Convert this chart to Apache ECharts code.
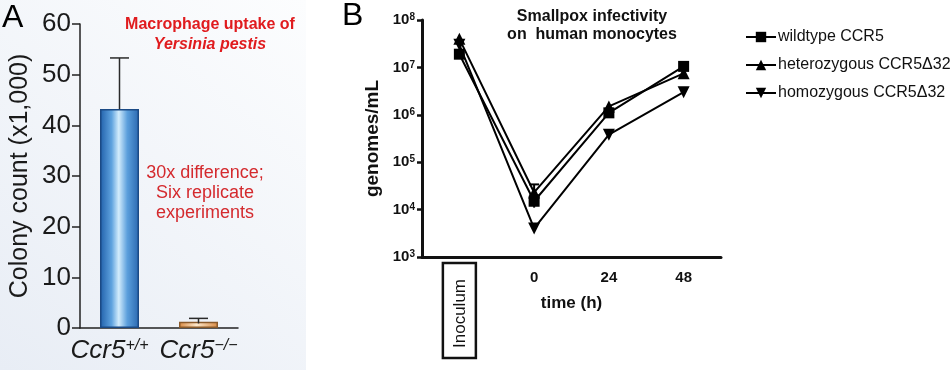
<!DOCTYPE html>
<html><head><meta charset="utf-8">
<script src="https://cdn.jsdelivr.net/npm/echarts@6/dist/echarts.min.js"></script>
<style>html,body{margin:0;padding:0;background:#fff}#c{width:951px;height:370px}</style>
</head><body><div id="c"></div>
<script>
// ---- Panel A data ----
const genotypesA = ['Ccr5+/+', 'Ccr5\u2212/\u2212'];
const colonyCount = [43.2, 1.25];
const colonyErrLow = [43.2, 0.9];
const colonyErrHigh = [53.3, 1.9];

// ---- Panel B data ----
const timeLabels = ['Inoculum', '0', '24', '48'];
const wildtype = [1.9e7, 1.5e4, 1.1e6, 1.05e7];
const heterozygous = [4.0e7, 2.3e4, 1.5e6, 7.5e6];
const homozygous = [3.0e7, 4.0e3, 3.8e5, 3.0e6];
const errTimeB = ['0', '0'];
const errLowB = [1.1e4, 1.6e4];
const errHighB = [2.0e4, 3.4e4];
const seriesNamesB = ['wildtype CCR5', 'heterozygous CCR5\u039432', 'homozygous CCR5\u039432'];

const FONT = '"Liberation Sans", Arial, sans-serif';

function errRender(capHalf, color, lw) {
  return function (params, api) {
    const x = api.value(0);
    const lo = api.coord([x, api.value(1)]);
    const hi = api.coord([x, api.value(2)]);
    return {
      type: 'group',
      children: [
        { type: 'line', shape: { x1: lo[0], y1: lo[1], x2: hi[0], y2: hi[1] }, style: { stroke: color, lineWidth: lw } },
        { type: 'line', shape: { x1: hi[0] - capHalf, y1: hi[1], x2: hi[0] + capHalf, y2: hi[1] }, style: { stroke: color, lineWidth: lw } }
      ]
    };
  };
}

const chart = echarts.init(document.getElementById('c'), null, { renderer: 'canvas' });

const blueGrad = new echarts.graphic.LinearGradient(0, 0, 1, 0, [
  { offset: 0, color: '#2060aa' }, { offset: 0.3, color: '#5fa3df' },
  { offset: 0.48, color: '#d2ecfc' }, { offset: 0.7, color: '#5b9fdc' }, { offset: 1, color: '#2a68b0' }
]);
const orangeGrad = new echarts.graphic.LinearGradient(0, 0, 1, 0, [
  { offset: 0, color: '#d98a43' }, { offset: 0.45, color: '#fde8cc' }, { offset: 1, color: '#d98a43' }
]);

const option = {
  animation: false,
  backgroundColor: '#ffffff',
  textStyle: { fontFamily: FONT },
  graphic: [
    {
      type: 'rect', z: -10, silent: true,
      shape: { x: 0, y: 0, width: 306, height: 370 },
      style: {
        fill: new echarts.graphic.LinearGradient(1, 0, 0, 1, [
          { offset: 0, color: '#fcfdfe' }, { offset: 1, color: '#e8edf5' }
        ])
      }
    },
    { type: 'text', x: 2, y: 2, style: { text: 'A', font: '32px ' + FONT, fill: '#000' } },
    { type: 'text', x: 342, y: 0, style: { text: 'B', font: '32px ' + FONT, fill: '#000' } },
    {
      type: 'text', x: 210, y: 35,
      style: {
        text: '{a|Macrophage uptake of}\n{b|Yersinia pestis}', align: 'center', verticalAlign: 'middle',
        rich: {
          a: { fontFamily: FONT, fontSize: 16, fontWeight: 'bold', fill: '#e01b1e', lineHeight: 20, align: 'center' },
          b: { fontFamily: FONT, fontSize: 16, fontWeight: 'bold', fontStyle: 'italic', fill: '#e01b1e', lineHeight: 20, align: 'center' }
        }
      }
    },
    {
      type: 'text', x: 205, y: 193,
      style: {
        text: '30x difference;\nSix replicate\nexperiments', align: 'center', verticalAlign: 'middle',
        font: '18px ' + FONT, fill: '#d42a2e', lineHeight: 20
      }
    },
    {
      type: 'text', x: 592, y: 26,
      style: {
        text: 'Smallpox infectivity\non  human monocytes', align: 'center', verticalAlign: 'middle',
        font: 'bold 16px ' + FONT, fill: '#111', lineHeight: 18
      }
    }
  ],
  legend: {
    orient: 'vertical', left: 740, top: 24, itemWidth: 30, itemHeight: 13, itemGap: 12,
    symbolRotate: 'inherit',
    data: seriesNamesB,
    textStyle: { fontFamily: FONT, fontSize: 16, color: '#111', padding: [0, 0, 0, -3] }
  },
  grid: [
    { left: 80, top: 24, width: 158, height: 304 },
    { left: 422, top: 20, width: 299, height: 237 }
  ],
  xAxis: [
    {
      type: 'category', gridIndex: 0, data: genotypesA, boundaryGap: true,
      axisLine: { lineStyle: { color: '#222', width: 1.5 } },
      axisTick: { length: 8, lineStyle: { color: '#222', width: 1.5 } },
      axisLabel: {
        margin: 10, color: '#1a1a1a', interval: 0, hideOverlap: false,
        formatter: (v, i) => '{i|' + v.slice(0, 4) + '}{' + (i === 0 ? 's0' : 's') + '|' + v.slice(4) + '}',
        rich: {
          i: { fontFamily: FONT, fontSize: 26, fontStyle: 'italic', color: '#1a1a1a' },
          s: { fontFamily: FONT, fontSize: 16, fontStyle: 'italic', color: '#1a1a1a', verticalAlign: 'top' },
          s0: { fontFamily: FONT, fontSize: 16, fontStyle: 'italic', color: '#1a1a1a', verticalAlign: 'top', padding: [0, 20, 0, 0] }
        }
      }
    },
    {
      type: 'category', gridIndex: 1, data: timeLabels, boundaryGap: true,
      name: 'time (h)', nameLocation: 'middle', nameGap: 38,
      nameTextStyle: { fontFamily: FONT, fontSize: 17, fontWeight: 'bold', color: '#111' },
      axisLine: { lineStyle: { color: '#111', width: 3 } },
      axisTick: { alignWithLabel: true, length: 6, lineStyle: { color: '#111', width: 2.5 } },
      axisLabel: {
        margin: 13, fontFamily: FONT, fontSize: 15, fontWeight: 'bold', color: '#111',
        interval: 0,
        formatter: v => (v === 'Inoculum' ? '' : v)
      }
    },
    {
      type: 'category', gridIndex: 1, data: timeLabels, boundaryGap: true, position: 'bottom',
      axisLine: { show: false }, axisTick: { show: false },
      axisLabel: {
        rotate: 90, margin: 6, interval: 0,
        formatter: v => (v === 'Inoculum' ? '{box|Inoculum}' : ''),
        rich: {
          box: {
            fontFamily: FONT, fontSize: 17, color: '#111',
            borderColor: '#111', borderWidth: 2.5, padding: [9, 16, 7, 10]
          }
        }
      }
    }
  ],
  yAxis: [
    {
      type: 'value', gridIndex: 0, min: 0, max: 60, interval: 10,
      name: 'Colony count (x1,000)', nameLocation: 'middle', nameGap: 47,
      nameTextStyle: { fontFamily: FONT, fontSize: 25, color: '#1a1a1a' },
      splitLine: { show: false },
      axisLine: { show: true, lineStyle: { color: '#222', width: 1.5 } },
      axisTick: { show: true, length: 8, lineStyle: { color: '#222', width: 1.5 } },
      axisLabel: { margin: 9, fontFamily: FONT, fontSize: 26, color: '#1a1a1a' }
    },
    {
      type: 'log', gridIndex: 1, min: 1e3, max: 1e8, logBase: 10,
      name: 'genomes/mL', nameLocation: 'middle', nameGap: 40,
      nameTextStyle: { fontFamily: FONT, fontSize: 19, fontWeight: 'bold', color: '#111' },
      splitLine: { show: false },
      axisLine: { show: true, lineStyle: { color: '#111', width: 3 } },
      axisTick: { show: true, length: 5, lineStyle: { color: '#111', width: 2.5 } },
      axisLabel: {
        margin: 7,
        formatter: v => '{b|10}{s|' + Math.round(Math.log10(v)) + '}',
        rich: {
          b: { fontFamily: FONT, fontSize: 15, fontWeight: 'bold', color: '#111' },
          s: { fontFamily: FONT, fontSize: 10, fontWeight: 'bold', color: '#111', verticalAlign: 'top' }
        }
      }
    }
  ],
  series: [
    {
      type: 'bar', xAxisIndex: 0, yAxisIndex: 0, barWidth: 39,
      data: [
        { value: colonyCount[0], itemStyle: { color: blueGrad, borderColor: '#1b4a85', borderWidth: 1.5 } },
        { value: colonyCount[1], itemStyle: { color: orangeGrad, borderColor: '#8a5a2b', borderWidth: 1.5 } }
      ]
    },
    {
      type: 'custom', xAxisIndex: 0, yAxisIndex: 0, z: 5,
      renderItem: errRender(9.5, '#2a2a2a', 1.5),
      data: genotypesA.map((g, i) => [g, colonyErrLow[i], colonyErrHigh[i]])
    },
    {
      name: seriesNamesB[2], type: 'line', xAxisIndex: 1, yAxisIndex: 1,
      data: homozygous, symbol: 'triangle', symbolRotate: 180, symbolSize: 12,
      lineStyle: { color: '#000', width: 2 }, itemStyle: { color: '#000' }
    },
    {
      name: seriesNamesB[1], type: 'line', xAxisIndex: 1, yAxisIndex: 1,
      data: heterozygous, symbol: 'triangle', symbolSize: 12,
      lineStyle: { color: '#000', width: 2 }, itemStyle: { color: '#000' }
    },
    {
      name: seriesNamesB[0], type: 'line', xAxisIndex: 1, yAxisIndex: 1,
      data: wildtype, symbol: 'rect', symbolSize: 11,
      lineStyle: { color: '#000', width: 2 }, itemStyle: { color: '#000' }
    },
    {
      type: 'custom', xAxisIndex: 1, yAxisIndex: 1, z: 5,
      renderItem: errRender(5, '#000', 2),
      data: errTimeB.map((t, i) => [t, errLowB[i], errHighB[i]])
    }
  ]
};
chart.setOption(option);
</script>
</body></html>
